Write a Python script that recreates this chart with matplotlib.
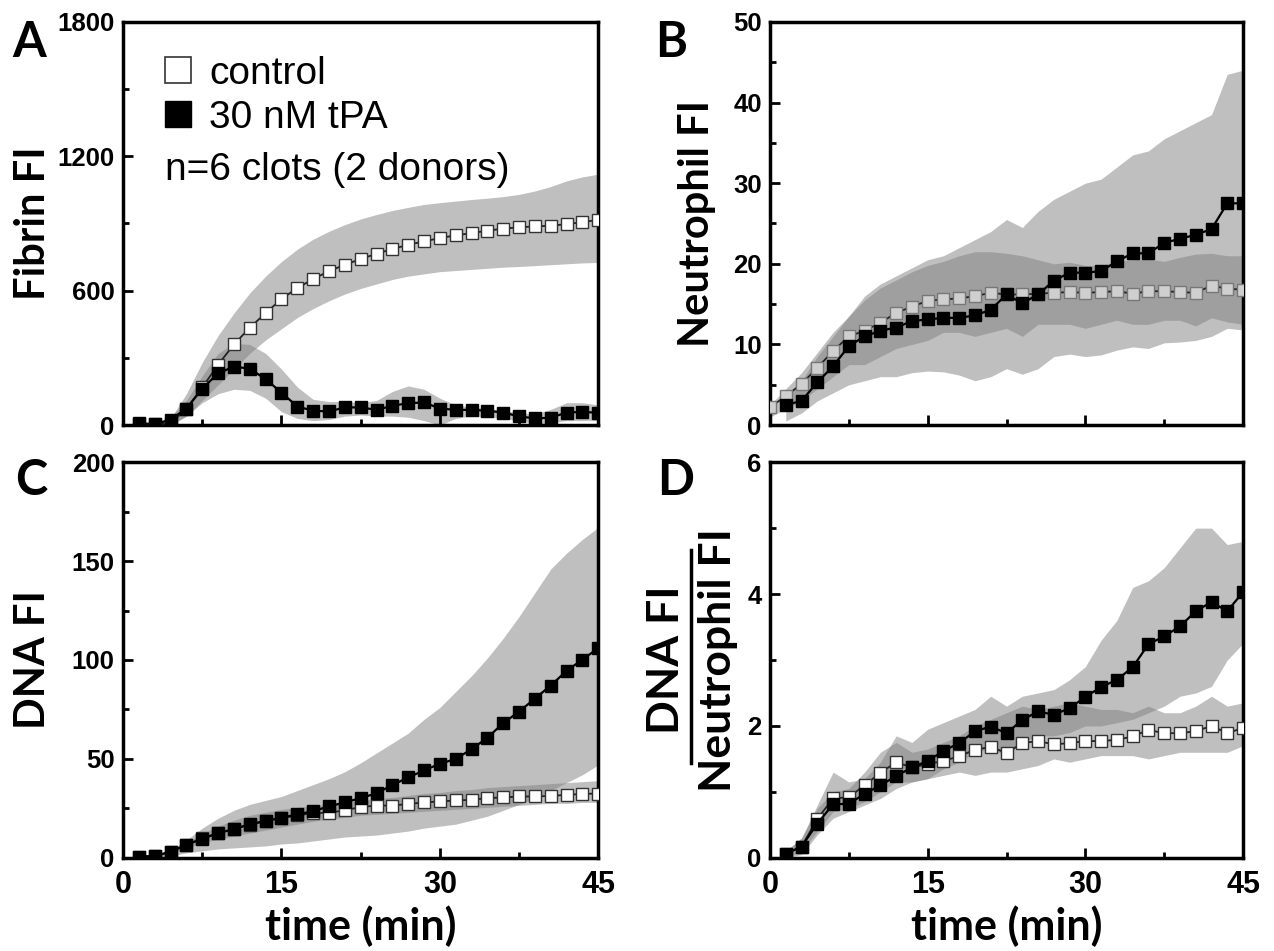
import matplotlib
matplotlib.use("Agg")
import matplotlib.pyplot as plt
from matplotlib.lines import Line2D
from matplotlib.ticker import MultipleLocator

# time points (min)
t = [1.5, 3, 4.5, 6, 7.5, 9, 10.5, 12, 13.5, 15, 16.5, 18, 19.5, 21, 22.5,
     24, 25.5, 27, 28.5, 30, 31.5, 33, 34.5, 36, 37.5, 39, 40.5, 42, 43.5, 45]
# panel B control starts at t=0
t_b_ctrl = [0] + t

# A: fibrin FI
a_ctrl = [5, 3, 10, 70, 168, 270, 360, 435, 500, 563, 612, 652, 687, 716, 741,
          765, 786, 805, 820, 835, 847, 857, 868, 877, 883, 887, 890, 897, 906, 916]
a_ctrl_lo = [0, 0, 0, 40, 110, 180, 250, 320, 380, 430, 480, 520, 555, 585, 610,
             630, 650, 665, 675, 685, 690, 695, 700, 705, 708, 712, 716, 720, 724, 726]
a_ctrl_hi = [5, 5, 30, 140, 280, 400, 500, 590, 665, 730, 785, 830, 865, 895, 920,
             940, 958, 972, 985, 993, 1000, 1007, 1013, 1020, 1030, 1045, 1065, 1090, 1108, 1120]
a_tpa = [8, 5, 24, 74, 163, 231, 261, 252, 205, 145, 83, 64, 61, 79, 79,
         68, 86, 98, 101, 74, 68, 68, 64, 56, 39, 30, 33, 56, 59, 55]
a_tpa_lo = [0, 0, 0, 40, 100, 140, 160, 155, 120, 60, 30, 20, 25, 40, 45,
            40, 40, 35, 20, 0, 30, 40, 35, 30, 20, 5, 10, 20, 20, 20]
a_tpa_hi = [10, 8, 35, 110, 220, 320, 365, 360, 320, 250, 170, 115, 105, 105, 100,
            110, 150, 175, 160, 120, 90, 80, 75, 65, 55, 50, 70, 100, 100, 90]

# B: neutrophil FI
b_ctrl = [2.2, 3.6, 5.1, 7.1, 9.2, 11.0, 11.7, 12.7, 13.9, 14.7, 15.4, 15.6, 15.7, 16.0, 16.4,
          16.2, 16.2, 16.3, 16.4, 16.5, 16.4, 16.5, 16.6, 16.3, 16.6, 16.6, 16.5, 16.4, 17.3, 16.9, 16.8]
b_ctrl_lo = [1, 2, 3, 4.5, 6, 7.5, 7.5, 8.5, 9.5, 10, 10.5, 11.5, 11.5, 11, 11.5,
             12, 11, 12.5, 12.5, 12.5, 12, 12.5, 13, 12.5, 12.5, 13, 13, 12.3, 13.3, 12.8, 12.5]
b_ctrl_hi = [2.5, 4.5, 6.5, 9, 11.5, 13.5, 15.5, 17, 18, 19, 19.8, 20.3, 21, 21.5, 21.5,
             21.3, 21, 20.5, 20, 20.2, 19.8, 19.8, 20.3, 20.5, 20.6, 20.3, 20.8, 21.2, 21.3, 21, 21]
b_tpa = [2.5, 3.0, 5.3, 7.3, 9.8, 11.0, 11.7, 12.1, 12.9, 13.1, 13.3, 13.3, 13.6, 14.3, 16.2,
         15.1, 16.2, 17.9, 18.9, 18.9, 19.1, 20.3, 21.3, 21.3, 22.6, 23.1, 23.6, 24.3, 27.5, 27.5]
b_tpa_lo = [0.5, 1.5, 3, 4, 5, 5.5, 6, 6, 6.5, 6.7, 6.6, 6.2, 5.5, 6, 7,
            6.3, 7, 8.5, 8.8, 8.5, 8.7, 9.3, 9.7, 9.5, 10.2, 10.3, 10.5, 11, 12, 11.8]
b_tpa_hi = [3.5, 5.5, 8.5, 11, 13.5, 16, 17.5, 18.5, 19.5, 20.5, 21, 22, 23, 24, 25.5,
            24.5, 26.5, 28, 29, 30, 30.5, 32, 33.5, 34, 35.5, 36.5, 37.5, 38.5, 43.5, 44]

# C: DNA FI
c_ctrl = [0.5, 1, 3, 6.6, 9.8, 12.5, 14.6, 16.8, 18.5, 20, 21.5, 22.5, 22.8, 24, 25.7,
          26.4, 26.4, 27.2, 28, 28.5, 29, 29.3, 30.2, 30.5, 31, 31, 31.3, 31.8, 32.3, 32.5]
c_ctrl_lo = [0, 0.5, 2, 5, 7.5, 9.5, 11, 12.5, 14, 15.5, 17, 18.5, 19.5, 20.5, 21.5,
             22, 22.5, 23, 23.5, 24, 24.5, 25, 25.5, 26, 26.5, 27, 27.5, 27.5, 28, 28]
c_ctrl_hi = [0.5, 1, 4, 8, 12, 16, 19, 21.5, 23, 24.5, 25.5, 26.5, 27, 28, 29,
             30, 30.5, 31.5, 32.5, 33, 34, 34.5, 35.5, 36, 36.5, 37, 37.5, 38, 38.5, 39]
c_tpa = [0.5, 1, 3, 6.6, 9.6, 12.5, 14.5, 17, 18.6, 20.3, 21.9, 23.6, 26, 28, 30.2,
         32.6, 36.8, 40.6, 44.2, 47.5, 50, 54.9, 60.7, 68.1, 73.9, 80.5, 87.1, 94.5, 100.2, 106]
c_tpa_lo = [0, 0, 1, 2.5, 3.5, 4.5, 5, 5.5, 6, 7, 7.5, 8.5, 9.5, 10.5, 11,
            11.5, 12.5, 13.5, 15, 16, 17, 19, 21, 24, 27, 30, 34, 38, 42, 47]
c_tpa_hi = [0.5, 1, 4, 9, 15, 20, 24, 27, 29, 31, 34, 37, 40, 43.5, 48,
            53, 58, 63, 70, 76, 84, 92, 101, 111, 122, 134, 146, 154, 161, 167]

# D: DNA FI / neutrophil FI
d_ctrl = [0.06, 0.17, 0.59, 0.90, 0.92, 1.10, 1.29, 1.45, 1.37, 1.42, 1.47, 1.54, 1.64, 1.68, 1.59,
          1.74, 1.77, 1.72, 1.74, 1.77, 1.77, 1.79, 1.84, 1.94, 1.89, 1.89, 1.92, 2.00, 1.89, 1.97]
d_ctrl_lo = [0.0, 0.1, 0.4, 0.7, 0.75, 0.85, 1.0, 1.15, 1.15, 1.2, 1.25, 1.3, 1.25, 1.3, 1.3,
             1.35, 1.4, 1.5, 1.45, 1.5, 1.55, 1.55, 1.55, 1.5, 1.55, 1.6, 1.6, 1.6, 1.6, 1.7]
d_ctrl_hi = [0.1, 0.3, 0.75, 1.0, 1.05, 1.3, 1.6, 1.75, 1.6, 1.65, 1.75, 1.85, 2.0, 2.1, 2.2,
             2.3, 2.25, 2.3, 2.35, 2.3, 2.25, 2.25, 2.2, 2.3, 2.2, 2.2, 2.3, 2.45, 2.3, 2.35]
d_tpa = [0.06, 0.17, 0.52, 0.81, 0.82, 0.97, 1.10, 1.24, 1.37, 1.47, 1.62, 1.74, 1.92, 1.99, 1.89,
         2.09, 2.22, 2.17, 2.27, 2.44, 2.59, 2.70, 2.89, 3.24, 3.36, 3.51, 3.74, 3.88, 3.74, 4.03]
d_tpa_lo = [0, 0.05, 0.35, 0.6, 0.7, 0.8, 0.9, 1.05, 1.15, 1.2, 1.35, 1.45, 1.6, 1.65, 1.55,
            1.75, 1.85, 1.85, 1.9, 2.0, 2.0, 2.05, 2.1, 2.2, 2.3, 2.45, 2.5, 2.6, 3.0, 3.25]
d_tpa_hi = [0.1, 0.3, 0.8, 1.3, 1.15, 1.2, 1.45, 1.85, 1.75, 1.95, 2.05, 2.15, 2.25, 2.45, 2.3,
            2.45, 2.5, 2.55, 2.7, 2.9, 3.3, 3.6, 4.1, 4.2, 4.4, 4.7, 5.0, 5.0, 4.75, 4.8]

TICK_FONT = ['Liberation Sans', 'DejaVu Sans']
LABEL_FONT = ['Lato', 'DejaVu Sans']
BAND = '#808080'

fig = plt.figure(figsize=(12.74, 9.51), dpi=100)
boxes = {'A': [0.0966, 0.553, 0.373, 0.424],
         'B': [0.6044, 0.553, 0.3713, 0.424],
         'C': [0.0966, 0.098, 0.373, 0.416],
         'D': [0.6044, 0.098, 0.3713, 0.416]}
# panel letter anchors (left, baseline) in figure fraction
letters = {'A': (0.010, 0.940), 'B': (0.514, 0.940),
           'C': (0.012, 0.4795), 'D': (0.516, 0.4795)}


def panel(key, tc, ctrl, clo, chi, tp, tlo, thi, ymax, ymaj, ctrl_face='white', ctrl_edge='#333333'):
    ax = fig.add_axes(boxes[key])
    ax.fill_between(tc, clo, chi, color=BAND, alpha=0.5, lw=0, zorder=1)
    ax.fill_between(t, tlo, thi, color=BAND, alpha=0.5, lw=0, zorder=1)
    ax.plot(tc, ctrl, color='#222222', lw=1.3, marker='s', ms=8, mfc=ctrl_face,
            mec=ctrl_edge, mew=1.0, zorder=3)
    ax.plot(t, tp, color='black', lw=1.6, marker='s', ms=8, mfc='black',
            mec='black', zorder=4)
    ax.set_xlim(0, 45)
    ax.set_ylim(0, ymax)
    ax.xaxis.set_major_locator(MultipleLocator(15))
    ax.xaxis.set_minor_locator(MultipleLocator(7.5))
    ax.yaxis.set_major_locator(MultipleLocator(ymaj))
    ax.yaxis.set_minor_locator(MultipleLocator(ymaj / 2))
    ax.tick_params(which='both', direction='in', top=False, right=False, width=2)
    ax.tick_params(which='major', length=7)
    ax.tick_params(which='minor', length=4)
    ax.tick_params(axis='y', pad=6)
    ax.tick_params(axis='x', pad=9)
    for s in ax.spines.values():
        s.set_linewidth(2.5)
    for lab in ax.get_yticklabels():
        lab.set_fontfamily(TICK_FONT)
        lab.set_fontweight('bold')
        lab.set_fontsize(18.5)
    for lab in ax.get_xticklabels():
        lab.set_fontfamily(TICK_FONT)
        lab.set_fontweight('bold')
        lab.set_fontsize(22)
    fig.text(*letters[key], key, fontfamily=LABEL_FONT, fontweight='bold',
             fontsize=35, ha='left', va='baseline')
    return ax


axA = panel('A', t, a_ctrl, a_ctrl_lo, a_ctrl_hi, a_tpa, a_tpa_lo, a_tpa_hi, 1800, 600)
axB = panel('B', t_b_ctrl, b_ctrl, b_ctrl_lo, b_ctrl_hi, b_tpa, b_tpa_lo, b_tpa_hi, 50, 10,
            ctrl_face='#cfcfcf', ctrl_edge='#777777')
axC = panel('C', t, c_ctrl, c_ctrl_lo, c_ctrl_hi, c_tpa, c_tpa_lo, c_tpa_hi, 200, 50)
axD = panel('D', t, d_ctrl, d_ctrl_lo, d_ctrl_hi, d_tpa, d_tpa_lo, d_tpa_hi, 6, 2)

for ax in (axA, axB):
    ax.tick_params(axis='x', labelbottom=False)

label_kw = dict(fontfamily=LABEL_FONT, fontweight='bold', fontsize=30)
axA.set_ylabel('Fibrin FI', va='center', **label_kw)
axA.yaxis.set_label_coords(-0.19, 0.5)
axB.set_ylabel('Neutrophil FI', va='center', **label_kw)
axB.yaxis.set_label_coords(-0.154, 0.5)
axC.set_ylabel('DNA FI', va='center', **label_kw)
axC.yaxis.set_label_coords(-0.19, 0.5)
for ax in (axC, axD):
    ax.set_xlabel('time (min)', va='center', fontfamily=LABEL_FONT,
                  fontweight='bold', fontsize=31)
    ax.xaxis.set_label_coords(0.5, -0.172)

# fraction-style y label for D
frac_kw = dict(fontfamily=LABEL_FONT, fontweight='bold', fontsize=32)
axD.text(-0.22, 0.5, 'DNA FI', transform=axD.transAxes, rotation=90,
         ha='center', va='center', **frac_kw)
axD.text(-0.11, 0.5, 'Neutrophil FI', transform=axD.transAxes, rotation=90,
         ha='center', va='center', **frac_kw)
axD.add_line(Line2D([-0.167, -0.167], [0.24, 0.778], transform=axD.transAxes,
                    color='black', lw=2.5, clip_on=False))

# legend in panel A
handles = [Line2D([], [], ls='none', marker='s', ms=19, mfc='white', mec='#333333', mew=1.2),
           Line2D([], [], ls='none', marker='s', ms=19, mfc='black', mec='black')]
axA.legend(handles, ['control', '30 nM tPA'], loc='upper left', bbox_to_anchor=(0.075, 0.916),
           frameon=False, borderpad=0, borderaxespad=0, handlelength=1.0, handletextpad=0.3,
           labelspacing=0.2, prop={'family': TICK_FONT, 'size': 28})
axA.text(0.088, 0.633, 'n=6 clots (2 donors)', transform=axA.transAxes,
         fontfamily=TICK_FONT, fontsize=28, ha='left', va='center')

fig.savefig('out.png', dpi=100)
